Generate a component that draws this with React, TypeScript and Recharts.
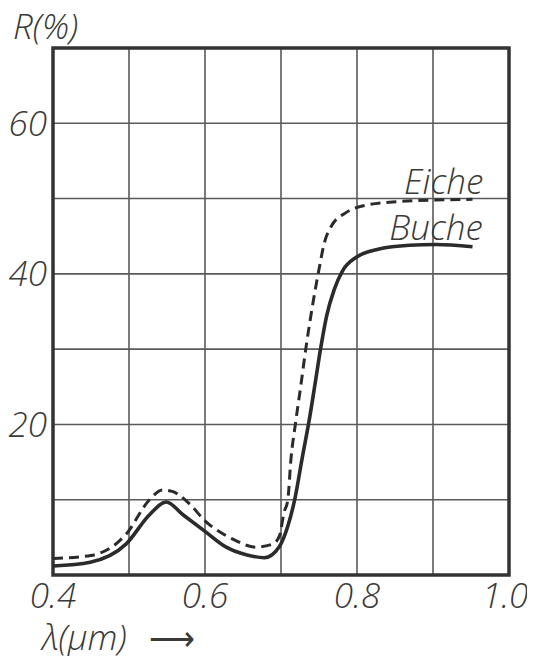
import React from 'react';
import { LineChart, Line, XAxis, YAxis, CartesianGrid, ReferenceArea, ReferenceDot } from 'recharts';

// Reflexionsgrad von Laub (Eiche / Buche) über der Wellenlänge
const eiche = [
  { x: 0.4, y: 2.2 },
  { x: 0.45, y: 2.6 },
  { x: 0.496, y: 5.4 },
  { x: 0.527, y: 10.0 },
  { x: 0.544, y: 11.3 },
  { x: 0.557, y: 11.1 },
  { x: 0.58, y: 9.4 },
  { x: 0.6, y: 7.2 },
  { x: 0.636, y: 4.8 },
  { x: 0.667, y: 3.7 },
  { x: 0.689, y: 4.1 },
  { x: 0.698, y: 5.2 },
  { x: 0.704, y: 8.3 },
  { x: 0.709, y: 10.0 },
  { x: 0.713, y: 15.3 },
  { x: 0.719, y: 20.1 },
  { x: 0.726, y: 25.1 },
  { x: 0.733, y: 30.3 },
  { x: 0.742, y: 36.1 },
  { x: 0.75, y: 40.6 },
  { x: 0.757, y: 44.1 },
  { x: 0.766, y: 46.3 },
  { x: 0.785, y: 48.1 },
  { x: 0.816, y: 49.2 },
  { x: 0.855, y: 49.6 },
  { x: 0.904, y: 49.8 },
  { x: 0.952, y: 49.9 },
];

const buche = [
  { x: 0.4, y: 1.2 },
  { x: 0.449, y: 1.7 },
  { x: 0.496, y: 4.1 },
  { x: 0.527, y: 8.0 },
  { x: 0.549, y: 9.7 },
  { x: 0.571, y: 8.0 },
  { x: 0.6, y: 5.8 },
  { x: 0.628, y: 3.7 },
  { x: 0.654, y: 2.7 },
  { x: 0.678, y: 2.3 },
  { x: 0.698, y: 3.8 },
  { x: 0.709, y: 6.5 },
  { x: 0.718, y: 10.0 },
  { x: 0.728, y: 15.6 },
  { x: 0.737, y: 20.5 },
  { x: 0.745, y: 25.5 },
  { x: 0.752, y: 30.0 },
  { x: 0.76, y: 34.4 },
  { x: 0.77, y: 37.9 },
  { x: 0.781, y: 40.4 },
  { x: 0.799, y: 42.2 },
  { x: 0.829, y: 43.3 },
  { x: 0.869, y: 43.8 },
  { x: 0.904, y: 43.9 },
  { x: 0.952, y: 43.6 },
];

const xTicks = [0.4, 0.5, 0.6, 0.7, 0.8, 0.9, 1.0];
const xLabelled = [0.4, 0.6, 0.8, 1.0];
const yTicks = [0, 10, 20, 30, 40, 50, 60, 70];
const yLabelled = [20, 40, 60];

const seriesLabels = [
  { name: 'Eiche', x: 0.914, y: 52.4 },
  { name: 'Buche', x: 0.904, y: 46.3 },
];

const FONT = '"Open Sans", "DejaVu Sans", sans-serif';
const INK = '#2b2b2b';
const GRID = '#5a5a5a';

const tickStyle = { fill: '#3a3a3a', fontSize: 35, fontStyle: 'italic', fontWeight: 300, fontFamily: FONT };

function SeriesLabel({ viewBox, value }: any) {
  if (!viewBox) return null;
  return (
    <text x={viewBox.x} y={viewBox.y} textAnchor="middle" dominantBaseline="central" style={tickStyle}>
      {value}
    </text>
  );
}

export default function App() {
  return (
    <div style={{ position: 'relative', width: 519, height: 648, fontFamily: FONT }}>
      <LineChart width={519} height={648} margin={{ top: 40, right: 18, bottom: 40, left: 0 }}>
        <CartesianGrid stroke={GRID} strokeWidth={1.6} />
        <XAxis
          type="number"
          dataKey="x"
          domain={[0.4, 1.0]}
          ticks={xTicks}
          height={41}
          tickLine={false}
          axisLine={false}
          tickSize={0}
          tickMargin={8}
          tick={tickStyle}
          tickFormatter={(v: number) => (xLabelled.some((t) => Math.abs(t - v) < 1e-6) ? v.toFixed(1) : '')}
          allowDataOverflow
        />
        <YAxis
          type="number"
          domain={[0, 70]}
          ticks={yTicks}
          width={45}
          tickLine={false}
          axisLine={false}
          tickSize={0}
          tickMargin={6}
          tick={tickStyle}
          tickFormatter={(v: number) => (yLabelled.includes(v) ? String(v) : '')}
        />
        <Line
          data={eiche}
          dataKey="y"
          type="monotone"
          stroke={INK}
          strokeWidth={3}
          strokeDasharray="10 6"
          dot={false}
          isAnimationActive={false}
        />
        <Line
          data={buche}
          dataKey="y"
          type="monotone"
          stroke={INK}
          strokeWidth={3.6}
          dot={false}
          isAnimationActive={false}
        />
        <ReferenceArea x1={0.4} x2={1.0} y1={0} y2={70} fill="none" stroke="#333" strokeWidth={3.5} ifOverflow="visible" />
        {seriesLabels.map((s) => (
          <ReferenceDot
            key={s.name}
            x={s.x}
            y={s.y}
            r={0}
            fill="none"
            stroke="none"
            label={<SeriesLabel value={s.name} />}
          />
        ))}
      </LineChart>
      <div style={{ position: 'absolute', left: 5, top: 0, fontSize: 35, fontStyle: 'italic', fontWeight: 300, color: '#3a3a3a', lineHeight: 1 }}>
        R(%)
      </div>
      <div style={{ position: 'absolute', left: 34, top: 611, fontSize: 35, fontStyle: 'italic', fontWeight: 300, color: '#3a3a3a', lineHeight: 1, whiteSpace: 'nowrap' }}>
        λ(μm)
        <span style={{ marginLeft: 22, fontStyle: 'normal', fontFamily: '"DejaVu Sans", sans-serif', fontSize: 32 }}>⟶</span>
      </div>
    </div>
  );
}
